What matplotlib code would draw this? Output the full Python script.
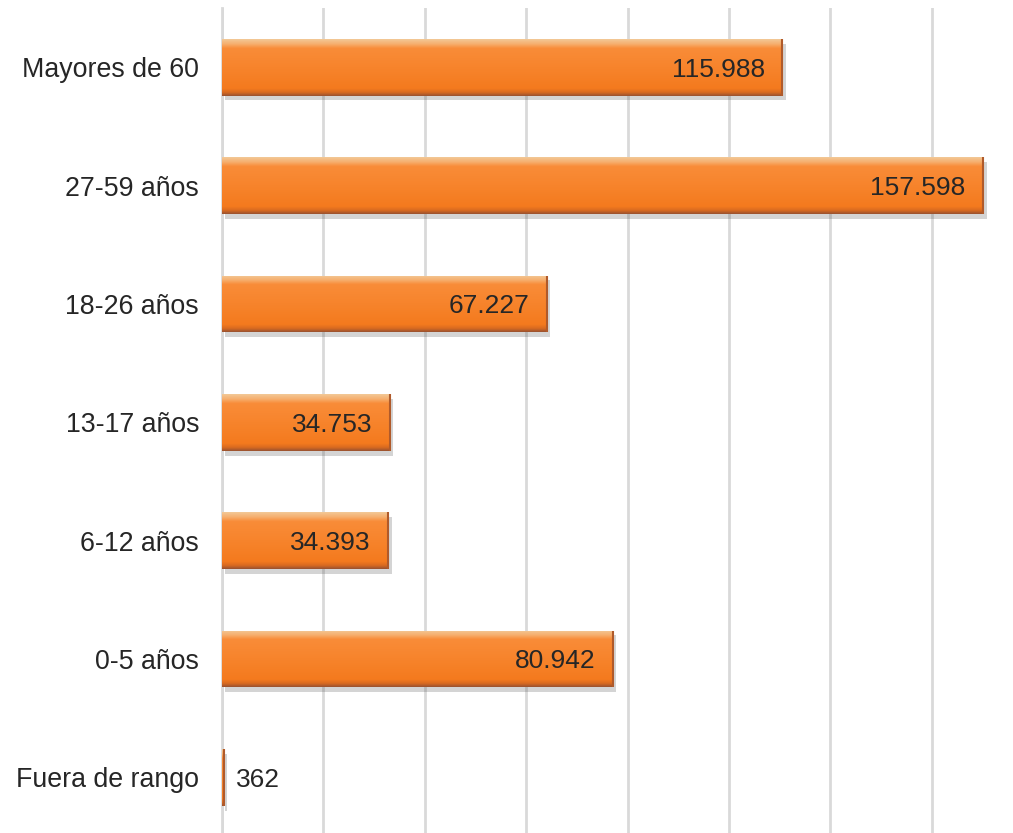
import numpy as np
import matplotlib
matplotlib.use("Agg")
import matplotlib.pyplot as plt
import matplotlib.patheffects as pe
from matplotlib.colors import LinearSegmentedColormap

categories = ["Fuera de rango", "0-5 años", "6-12 años", "13-17 años",
              "18-26 años", "27-59 años", "Mayores de 60"]
values = [362, 80942, 34393, 34753, 67227, 157598, 115988]
labels = ["362", "80.942", "34.393", "34.753", "67.227", "157.598", "115.988"]

plt.rcParams['font.family'] = ['Liberation Sans', 'DejaVu Sans']

fig = plt.figure(figsize=(10.13, 8.33), dpi=100)
ax = fig.add_axes([222/1013, 0.0, (1013-222)/1013, (833-8)/833])

y = np.arange(len(categories))
bars = ax.barh(y, values, height=0.48, color="#F7842C", zorder=3,
               path_effects=[pe.SimplePatchShadow(offset=(2.5, -3.5), alpha=0.25, shadow_rgbFace="#555555"),
                             pe.Normal()])

cmap = LinearSegmentedColormap.from_list("og", [
    (0.0, "#9A5230"), (0.06, "#D86A20"), (0.13, "#F47A1E"), (0.5, "#F7842C"),
    (0.84, "#F98C38"), (0.92, "#F6B070"), (1.0, "#F2C896")])
grad = np.linspace(0, 1, 128).reshape(-1, 1)
for b in bars:
    x0, y0 = b.get_x(), b.get_y()
    w, h = b.get_width(), b.get_height()
    im = ax.imshow(grad, cmap=cmap, aspect="auto", origin="lower",
                   extent=[x0, x0 + w, y0, y0 + h], zorder=4, interpolation="bilinear")
    im.set_clip_path(b)
    ax.plot([x0 + w, x0 + w], [y0, y0 + h], color="#B05A2A", lw=1.5, zorder=5,
            solid_capstyle="butt")

xmax = 163800
for i, (v, lab) in enumerate(zip(values, labels)):
    if v < 20000:
        ax.text(v + 2500, i - 0.02, lab, va="center", ha="left", fontsize=19, color="#262626", zorder=6)
    else:
        ax.text(v - 3600, i - 0.02, lab, va="center", ha="right", fontsize=19, color="#262626", zorder=6)

ax.set_xlim(0, xmax)
ax.set_ylim(-0.47, 6.5)
ax.set_xticks(np.arange(0, 150000, 21000))
ax.xaxis.grid(True, color="#D9D9D9", lw=2, zorder=0)
ax.set_axisbelow(True)
ax.tick_params(axis="x", length=0, labelbottom=False)
ax.tick_params(axis="y", length=0, pad=16.5, labelsize=19.3, labelcolor="#262626")
ax.set_yticks(y)
ax.set_yticklabels(categories)
for s in ["top", "right", "bottom"]:
    ax.spines[s].set_visible(False)
ax.spines["left"].set_color("#D9D9D9")
ax.spines["left"].set_linewidth(2)

fig.savefig("out.png", dpi=100)
